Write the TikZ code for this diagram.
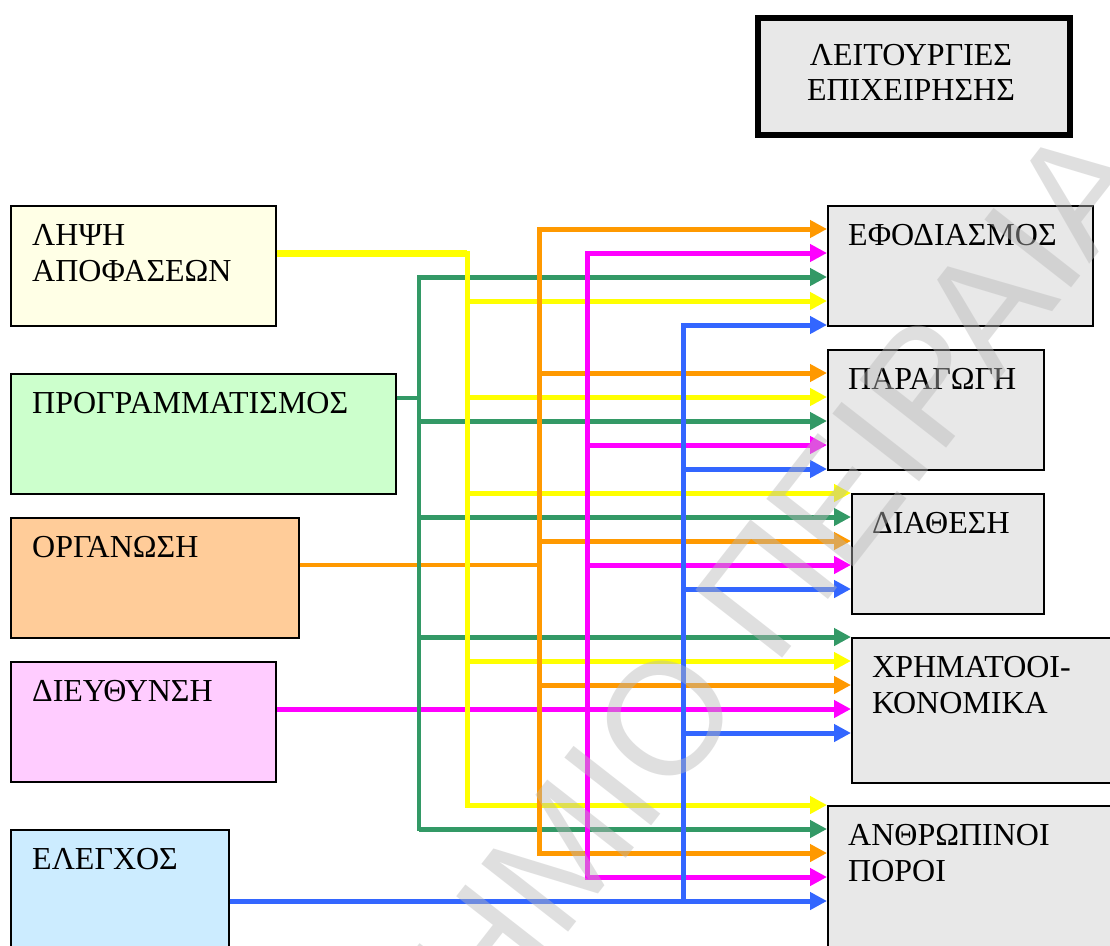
\documentclass[tikz,border=0pt]{standalone}
\usepackage{fontspec}
\setmainfont{Liberation Serif}
\newfontfamily\wmfont{Liberation Sans}
\usetikzlibrary{arrows.meta}

% line colours
\definecolor{cyel}{HTML}{FFFF00}
\definecolor{cgrn}{HTML}{339966}
\definecolor{corg}{HTML}{FF9900}
\definecolor{cmag}{HTML}{FF00FF}
\definecolor{cblu}{HTML}{3366FF}
% box fills
\definecolor{fyel}{HTML}{FFFFE6}
\definecolor{fgrn}{HTML}{CCFFCC}
\definecolor{forg}{HTML}{FFCC99}
\definecolor{fmag}{HTML}{FFCCFF}
\definecolor{fblu}{HTML}{CCECFF}
\definecolor{fgry}{HTML}{E8E8E8}
\definecolor{wmgray}{RGB}{184,184,184}

% two-line text whose reference point is the first baseline
\newcommand{\twolines}[2]{\vtop{\hbox{#1}\hbox{#2}}}

\begin{document}
\begin{tikzpicture}[x=1pt,y=-1pt,
  box/.style={draw=black, line width=1.5pt, inner sep=0pt, anchor=north west},
  lbl/.style={anchor=base west, inner sep=0pt,
              font=\fontsize{32}{36.5}\selectfont},
  arr/.style={line width=5pt, -{Triangle[length=17pt,width=17pt]}},
  busline/.style={line width=5pt, line cap=rect},
  wm/.style={inner sep=0pt, text=wmgray, text opacity=0.44,
             font=\wmfont\fontsize{160}{160}\selectfont, rotate=52},
]
\fill[white] (0,0) rectangle (1110,945);
\useasboundingbox (0,0) rectangle (1110,945);

% title box
\node[box, line width=6pt, fill=fgry, minimum width=312pt, minimum height=117pt]
  (title) at (755,15) {};
\node[anchor=base, inner sep=0pt, align=center, font=\fontsize{32}{35}\selectfont]
  (titletxt) at (911,100) {ΛΕΙΤΟΥΡΓΙΕΣ\\ΕΠΙΧΕΙΡΗΣΗΣ};

% management activities (left)
\node[box, fill=fyel, minimum width=265pt, minimum height=120pt] (lipsi) at (10,205) {};
\node[box, fill=fgrn, minimum width=385pt, minimum height=120pt] (prog)  at (10,373) {};
\node[box, fill=forg, minimum width=288pt, minimum height=120pt] (org)   at (10,517) {};
\node[box, fill=fmag, minimum width=265pt, minimum height=120pt] (dieu)  at (10,661) {};
\node[box, fill=fblu, minimum width=218pt, minimum height=140pt] (elen)  at (10,829) {};

% business functions (right)
\node[box, fill=fgry, minimum width=265pt, minimum height=120pt] (efod)  at (827,205) {};
\node[box, fill=fgry, minimum width=216pt, minimum height=120pt] (parag) at (827,349) {};
\node[box, fill=fgry, minimum width=192pt, minimum height=120pt] (diath) at (851,493) {};
\node[box, fill=fgry, minimum width=280pt, minimum height=145pt] (xrim)  at (851,637) {};
\node[box, fill=fgry, minimum width=300pt, minimum height=160pt] (anthr) at (827,805) {};

% labels
\node[lbl] (tlipsi) at ([xshift=22pt,yshift=-40pt]lipsi.north west) {\twolines{ΛΗΨΗ}{ΑΠΟΦΑΣΕΩΝ}};
\node[lbl] (tprog)  at ([xshift=22pt,yshift=-40pt]prog.north west)  {ΠΡΟΓΡΑΜΜΑΤΙΣΜΟΣ};
\node[lbl] (torg)   at ([xshift=22pt,yshift=-40pt]org.north west)   {ΟΡΓΑΝΩΣΗ};
\node[lbl] (tdieu)  at ([xshift=22pt,yshift=-40pt]dieu.north west)  {ΔΙΕΥΘΥΝΣΗ};
\node[lbl] (telen)  at ([xshift=22pt,yshift=-40pt]elen.north west)  {ΕΛΕΓΧΟΣ};
\node[lbl] (tefod)  at ([xshift=21pt,yshift=-40pt]efod.north west)  {ΕΦΟΔΙΑΣΜΟΣ};
\node[lbl] (tparag) at ([xshift=21pt,yshift=-40pt]parag.north west) {ΠΑΡΑΓΩΓΗ};
\node[lbl] (tdiath) at ([xshift=21pt,yshift=-40pt]diath.north west) {ΔΙΑΘΕΣΗ};
\node[lbl] (txrim)  at ([xshift=21pt,yshift=-40pt]xrim.north west)  {\twolines{ΧΡΗΜΑΤΟΟΙ-}{ΚΟΝΟΜΙΚΑ}};
\node[lbl] (tanthr) at ([xshift=21pt,yshift=-40pt]anthr.north west) {\twolines{ΑΝΘΡΩΠΙΝΟΙ}{ΠΟΡΟΙ}};

% distribution buses
\coordinate (gb) at (419,0);
\coordinate (yb) at (467,0);
\coordinate (ob) at (539,0);
\coordinate (mb) at (587,0);
\coordinate (bb) at (683,0);

% inputs into the buses
\draw[cgrn, line width=3.5pt] (prog.east |- 0,398) -- (gb |- 0,398);
\draw[cyel, line width=7pt]   (lipsi.east |- 0,253) -- (yb |- 0,253);
\draw[corg, line width=4pt]   (org.east |- 0,565) -- (ob |- 0,565);

% branches
\foreach \yy/\tg in {277/efod, 421/parag, 517/diath, 637/xrim, 829/anthr}
  \draw[arr, cgrn] (gb |- 0,\yy) -- (\tg.west |- 0,\yy);
\foreach \yy/\tg in {301/efod, 397/parag, 493/diath, 661/xrim, 805/anthr}
  \draw[arr, cyel] (yb |- 0,\yy) -- (\tg.west |- 0,\yy);
\foreach \yy/\tg in {229/efod, 373/parag, 541/diath, 685/xrim, 853/anthr}
  \draw[arr, corg] (ob |- 0,\yy) -- (\tg.west |- 0,\yy);
\foreach \yy/\tg in {253/efod, 445/parag, 565/diath, 877/anthr}
  \draw[arr, cmag] (mb |- 0,\yy) -- (\tg.west |- 0,\yy);
\foreach \yy/\tg in {325/efod, 469/parag, 589/diath, 733/xrim}
  \draw[arr, cblu] (bb |- 0,\yy) -- (\tg.west |- 0,\yy);
\draw[arr, cmag] (dieu.east |- 0,709) -- (xrim.west |- 0,709);
\draw[arr, cblu] (elen.east |- 0,901) -- (anthr.west |- 0,901);

% vertical buses
\draw[busline, cgrn, line width=4pt] (gb |- 0,277) -- (gb |- 0,829);
\draw[busline, cyel] (yb |- 0,253) -- (yb |- 0,805);
\draw[busline, corg] (ob |- 0,229) -- (ob |- 0,853);
\draw[busline, cmag] (mb |- 0,253) -- (mb |- 0,877);
\draw[busline, cblu] (bb |- 0,325) -- (bb |- 0,901);

% watermark
\begin{scope}
  \clip (0,0) rectangle (1110,945);
  \node[wm, anchor=base east] (wma) at (670,802) {ΠΑΝΕΠΙΣΤΗΜΙ};
  \node[wm, anchor=base west] (wmb) at (wma.base east) {Ο ΠΕΙΡΑΙΑ};
\end{scope}
\end{tikzpicture}
\end{document}
